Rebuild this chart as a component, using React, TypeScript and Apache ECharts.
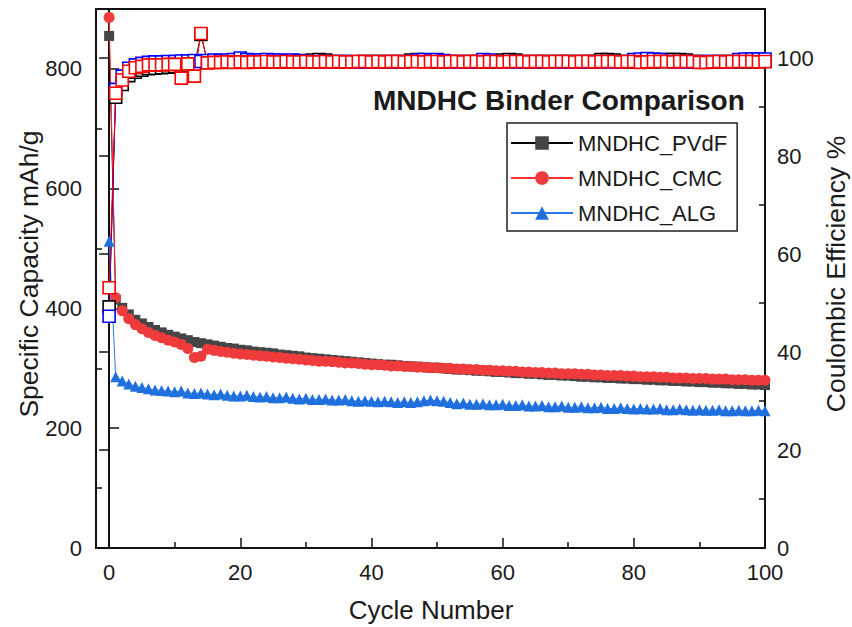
import React, { useEffect, useRef } from "react";
import * as echarts from "echarts";

// Cycle index 0..100
const cycles: number[] = Array.from({ length: 101 }, (_, i) => i);

// Specific capacity (mAh/g)
const capPVdF: number[] = [
  855, 415, 401, 390, 381, 375, 369, 364, 360, 356,
  353, 350, 347, 344, 342, 340, 338, 336, 334, 333,
  331, 330, 328, 327, 326, 325, 323, 322, 321, 320,
  318, 317, 316, 315, 314, 313, 312, 311, 310, 309,
  308, 307, 306, 306, 305, 304, 303, 303, 302, 301,
  301, 300, 299, 298, 298, 297, 296, 296, 295, 294,
  294, 293, 292, 292, 291, 291, 290, 289, 289, 288,
  288, 287, 286, 286, 285, 285, 284, 284, 283, 283,
  282, 282, 281, 281, 280, 280, 279, 279, 278, 278,
  277, 277, 276, 276, 275, 275, 274, 274, 273, 273,
  272,
];
const capCMC: number[] = [
  886, 418, 396, 383, 373, 366, 360, 355, 351, 347,
  344, 340, 333, 318, 320, 332, 330, 328, 327, 325,
  324, 323, 322, 321, 320, 319, 318, 317, 316, 315,
  314, 313, 312, 312, 311, 310, 309, 309, 308, 307,
  306, 306, 305, 304, 304, 303, 303, 302, 302, 301,
  301, 300, 300, 299, 299, 298, 298, 297, 297, 296,
  296, 295, 295, 294, 294, 293, 293, 292, 292, 291,
  291, 291, 290, 290, 289, 289, 288, 288, 288, 287,
  287, 286, 286, 286, 285, 285, 284, 284, 284, 283,
  283, 283, 282, 282, 282, 281, 281, 281, 280, 280,
  280,
];
const capALG: number[] = [
  512, 286, 279, 274, 270, 268, 266, 264, 263, 262,
  261, 262, 259, 258, 259, 257, 256, 257, 255, 254,
  254, 255, 253, 252, 253, 251, 251, 252, 250, 249,
  250, 248, 248, 249, 247, 247, 248, 246, 245, 246,
  245, 244, 245, 244, 243, 244, 243, 244, 246, 247,
  246, 245, 243, 241, 242, 240, 240, 241, 239, 239,
  240, 238, 238, 239, 237, 237, 238, 236, 236, 237,
  235, 235, 236, 234, 234, 235, 233, 233, 234, 233,
  232, 233, 232, 232, 233, 231, 231, 232, 231, 230,
  231, 230, 230, 231, 229, 229, 230, 229, 229, 230,
  229,
];

// Coulombic efficiency (%)
const cePVdF: number[] = [
  49.2, 92.0, 94.6, 96.4, 97.1, 97.5, 97.8, 97.9, 98.0, 98.1,
  98.2, 98.3, 98.4, 98.4, 104.8, 99.1, 99.2, 99.2, 99.3, 99.2,
  99.3, 99.2, 99.3, 99.2, 99.3, 99.2, 99.3, 99.2, 99.3, 99.2,
  99.3, 99.6, 99.7, 99.6, 99.3, 99.2, 99.3, 99.2, 99.2, 99.3,
  99.2, 99.3, 99.2, 99.3, 99.2, 99.3, 99.6, 99.7, 99.6, 99.3,
  99.2, 99.3, 99.2, 99.3, 99.2, 99.3, 99.2, 99.3, 99.2, 99.3,
  99.6, 99.7, 99.6, 99.3, 99.2, 99.3, 99.2, 99.3, 99.2, 99.3,
  99.2, 99.3, 99.2, 99.3, 99.3, 99.7, 99.7, 99.6, 99.3, 99.2,
  99.3, 99.2, 99.3, 99.2, 99.3, 99.7, 99.7, 99.7, 99.6, 99.3,
  99.2, 99.3, 99.2, 99.3, 99.2, 99.3, 99.2, 99.3, 99.2, 99.3,
  99.3,
];
const ceCMC: number[] = [
  53.1, 92.8, 95.5, 97.3, 98.0, 98.3, 98.6, 98.6, 98.6, 98.7,
  98.7, 95.9, 98.8, 96.3, 105.0, 99.0, 99.1, 99.1, 99.2, 99.1,
  99.2, 99.1, 99.2, 99.2, 99.3, 99.2, 99.2, 99.3, 99.2, 99.2,
  99.3, 99.2, 99.2, 99.3, 99.2, 99.3, 99.2, 99.2, 99.3, 99.3,
  99.2, 99.3, 99.2, 99.3, 99.3, 99.2, 99.3, 99.3, 99.2, 99.3,
  99.3, 99.2, 99.3, 99.3, 99.2, 99.3, 99.3, 99.2, 99.3, 99.3,
  99.2, 99.3, 99.3, 99.3, 99.2, 99.3, 99.3, 99.2, 99.3, 99.3,
  99.3, 99.2, 99.3, 99.3, 99.2, 99.3, 99.3, 99.3, 99.2, 99.3,
  99.3, 99.1, 99.2, 99.3, 99.3, 99.3, 99.2, 99.3, 99.3, 99.3,
  99.1, 99.1, 99.2, 99.3, 99.2, 99.3, 99.3, 99.3, 99.3, 99.2,
  99.3,
];
const ceALG: number[] = [
  47.3, 93.6, 96.3, 97.9, 98.6, 98.9, 99.1, 99.2, 99.2, 99.3,
  99.3, 99.4, 99.4, 99.5, 99.3, 99.5, 99.6, 99.5, 99.6, 99.7,
  100.0, 99.7, 99.6, 99.6, 99.7, 99.6, 99.6, 99.5, 99.6, 99.5,
  99.3, 99.2, 99.3, 99.2, 99.3, 99.2, 99.3, 99.2, 99.3, 99.2,
  99.3, 99.2, 99.3, 99.2, 99.3, 99.2, 99.3, 99.6, 99.7, 99.6,
  99.7, 99.5, 99.3, 99.2, 99.3, 99.2, 99.3, 99.7, 99.6, 99.3,
  99.2, 99.3, 99.2, 99.3, 99.2, 99.3, 99.2, 99.3, 99.2, 99.3,
  99.2, 99.3, 99.2, 99.3, 99.2, 99.3, 99.2, 99.3, 99.2, 99.3,
  99.7, 99.8, 99.9, 99.8, 99.7, 99.3, 99.2, 99.3, 99.2, 99.3,
  99.2, 99.3, 99.2, 99.3, 99.2, 99.3, 99.7, 99.8, 99.8, 99.8,
  99.8,
];

// Tick positions and labels
const xMajorTicks: number[] = [0, 20, 40, 60, 80, 100];
const xMinorTicks: number[] = [10, 30, 50, 70, 90];
const capMajorTicks: number[] = [0, 200, 400, 600, 800];
const capMinorTicks: number[] = [100, 300, 500, 700];
const ceMajorTicks: number[] = [0, 20, 40, 60, 80, 100];
const ceMinorTicks: number[] = [10, 30, 50, 70, 90];

const legendNames: string[] = ["MNDHC_PVdF", "MNDHC_CMC", "MNDHC_ALG"];

const FONT = "'Liberation Sans', Arial, sans-serif";
const INK = "#1a1a1a";
const AXIS = "#111";

const pairs = (ys: number[]) => cycles.map((c, i) => [c, ys[i]]);

function buildOption(): echarts.EChartsOption {
  const baseX = {
    type: "value" as const,
    min: -2,
    max: 100,
    position: "bottom" as const,
    splitLine: { show: false },
  };
  const baseCap = {
    type: "value" as const,
    min: 0,
    max: 900,
    position: "left" as const,
    splitLine: { show: false },
  };
  const baseCE = {
    type: "value" as const,
    min: 0,
    max: 110,
    position: "right" as const,
    splitLine: { show: false },
  };
  const labelStyle = { fontSize: 22, fontFamily: FONT, color: INK, lineHeight: 20 };
  const major = (values: number[]) => ({
    show: true,
    inside: true,
    length: 10,
    customValues: values,
    lineStyle: { color: AXIS, width: 1.5 },
  });
  const minor = (values: number[]) => ({
    show: true,
    inside: true,
    length: 6,
    customValues: values,
    lineStyle: { color: AXIS, width: 1.5 },
  });

  const capSeries = (
    name: string,
    data: number[],
    symbol: string,
    size: number,
    fill: string,
    line: string
  ) => ({
    name,
    type: "line" as const,
    xAxisIndex: 0,
    yAxisIndex: 0,
    data: pairs(data),
    symbol,
    symbolSize: size,
    showAllSymbol: true,
    itemStyle: { color: fill },
    lineStyle: { color: line, width: 1 },
    emphasis: { disabled: true },
  });

  const ceSeries = (name: string, data: number[], color: string) => ({
    name,
    type: "line" as const,
    xAxisIndex: 0,
    yAxisIndex: 1,
    data: pairs(data),
    symbol: "rect",
    symbolSize: 12,
    showAllSymbol: true,
    itemStyle: { color: "#fff", borderColor: color, borderWidth: 1.6 },
    lineStyle: { color, width: 1 },
    emphasis: { disabled: true },
  });

  const axisTitle = (text: string, x: number, y: number, size: number, rotated: boolean) => ({
    type: "text",
    x,
    y,
    rotation: rotated ? Math.PI / 2 : 0,
    style: {
      text,
      fontSize: size,
      fontFamily: FONT,
      fill: INK,
      textAlign: "center",
      textVerticalAlign: "middle",
    },
  });

  return {
    animation: false,
    backgroundColor: "#fff",
    grid: {
      left: 96,
      right: 87,
      top: 9,
      bottom: 79,
      show: true,
      borderColor: AXIS,
      borderWidth: 2,
      backgroundColor: "transparent",
    },
    legend: {
      data: legendNames,
      orient: "vertical",
      left: 507,
      top: 123,
      padding: [9, 10, 7, 3],
      itemWidth: 62,
      itemHeight: 17,
      itemGap: 13,
      borderColor: "#222",
      borderWidth: 1.5,
      backgroundColor: "#fff",
      textStyle: { fontSize: 22, fontFamily: FONT, color: INK, lineHeight: 22 },
      selectedMode: false,
    },
    xAxis: [
      {
        ...baseX,
        axisLine: { show: true, lineStyle: { color: AXIS, width: 2 } },
        axisTick: major(xMajorTicks),
        axisLabel: { ...labelStyle, margin: 14, customValues: xMajorTicks },
      },
      {
        ...baseX,
        axisLine: { show: false },
        axisTick: minor(xMinorTicks),
        axisLabel: { show: false },
      },
    ],
    yAxis: [
      {
        ...baseCap,
        axisLine: { show: true, lineStyle: { color: AXIS, width: 2 } },
        axisTick: major(capMajorTicks),
        axisLabel: { ...labelStyle, margin: 14, customValues: capMajorTicks },
      },
      {
        ...baseCE,
        axisLine: { show: true, lineStyle: { color: AXIS, width: 2 } },
        axisTick: major(ceMajorTicks),
        axisLabel: { ...labelStyle, margin: 12, customValues: ceMajorTicks },
      },
      {
        ...baseCap,
        axisLine: { show: false },
        axisTick: minor(capMinorTicks),
        axisLabel: { show: false },
      },
      {
        ...baseCE,
        axisLine: { show: false },
        axisTick: minor(ceMinorTicks),
        axisLabel: { show: false },
      },
    ],
    graphic: [
      {
        type: "text",
        x: 373,
        y: 100,
        style: {
          text: "MNDHC Binder Comparison",
          fontSize: 28,
          fontWeight: "bold",
          fontFamily: FONT,
          fill: INK,
          textAlign: "left",
          textVerticalAlign: "middle",
        },
      },
      axisTitle("Cycle Number", 431, 610, 26, false),
      axisTitle("Specific Capacity mAh/g", 29, 274, 26.5, true),
      axisTitle("Coulombic Efficiency %", 836, 274, 26.5, true),
    ],
    series: [
      capSeries("MNDHC_ALG", capALG, "triangle", 11, "#1f6fde", "#2a78ee"),
      capSeries("MNDHC_PVdF", capPVdF, "rect", 10, "#454545", "#000"),
      capSeries("MNDHC_CMC", capCMC, "circle", 11, "#ef3b3b", "#ff3030"),
      ceSeries("CE_PVdF", cePVdF, "#000"),
      ceSeries("CE_ALG", ceALG, "#0000ff"),
      ceSeries("CE_CMC", ceCMC, "#ff0000"),
    ],
  } as echarts.EChartsOption;
}

export default function App() {
  const ref = useRef<HTMLDivElement>(null);
  useEffect(() => {
    if (!ref.current) return;
    const chart = echarts.init(ref.current, undefined, { renderer: "svg" });
    chart.setOption(buildOption());
    return () => chart.dispose();
  }, []);
  return (
    <div
      ref={ref}
      style={{ position: "fixed", left: 0, top: 0, width: 852, height: 627, background: "#fff" }}
    />
  );
}
